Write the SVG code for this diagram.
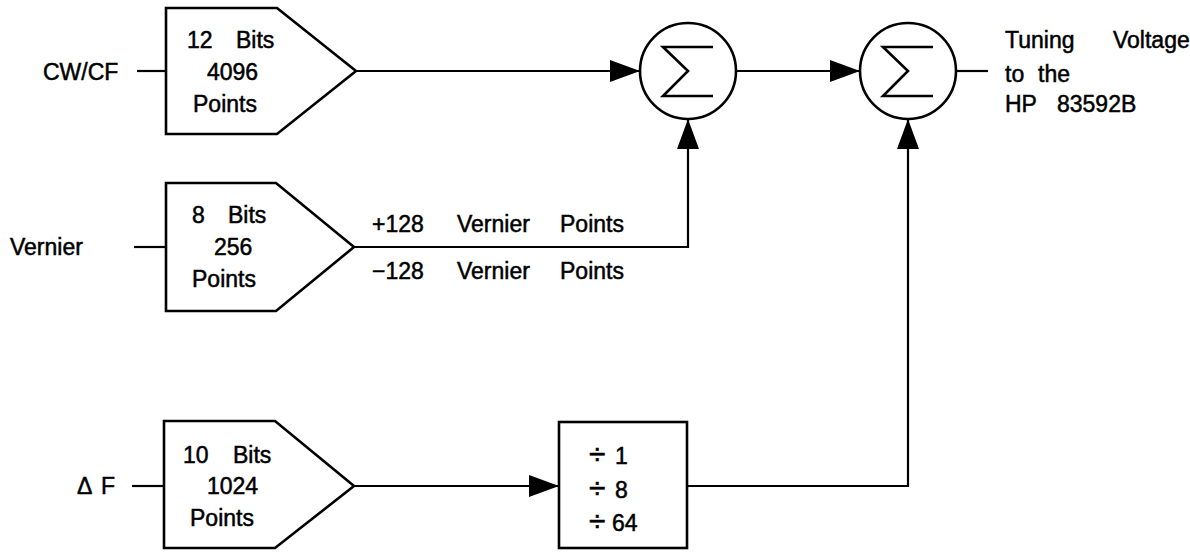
<svg xmlns="http://www.w3.org/2000/svg" width="1190" height="552" viewBox="0 0 1190 552">
<defs>
<style>
.shape{fill:#fff;stroke:#000;stroke-width:2.6;stroke-linejoin:miter}
.wire{fill:none;stroke:#000;stroke-width:2.2}
.sig{fill:none;stroke:#000;stroke-width:2.6;stroke-linejoin:miter}
text{font-family:"Liberation Sans",Arial,sans-serif;font-size:23px;fill:#000;stroke:#000;stroke-width:0.5}
.div{font-size:30px}
</style>
<marker id="arrow" viewBox="0 0 30 22" refX="30" refY="11" markerWidth="30" markerHeight="22" orient="auto" markerUnits="userSpaceOnUse">
<path d="M0,0 L30,11 L0,22 Z" fill="#000"/>
</marker>
</defs>
<rect width="1190" height="552" fill="#fff"/>

<g id="connectors">
<line class="wire" x1="137" y1="71" x2="166" y2="71"/>
<line class="wire" x1="134" y1="247" x2="166" y2="247"/>
<line class="wire" x1="132" y1="486" x2="164" y2="486"/>
<line class="wire" x1="356" y1="71" x2="640" y2="71" marker-end="url(#arrow)"/>
<line class="wire" x1="736" y1="71" x2="860" y2="71" marker-end="url(#arrow)"/>
<polyline class="wire" points="354,247 688,247 688,119" marker-end="url(#arrow)"/>
<line class="wire" x1="354" y1="486" x2="559" y2="486" marker-end="url(#arrow)"/>
<polyline class="wire" points="687,486 908,486 908,119" marker-end="url(#arrow)"/>
<line class="wire" x1="956" y1="71" x2="988" y2="71"/>
</g>

<g id="label-cwcf"><text x="43" y="80">CW/CF</text></g>
<g id="label-vernier"><text x="10" y="255">Vernier</text></g>
<g id="label-deltaf"><text x="77" y="494">Δ<tspan x="101">F</tspan></text></g>

<g id="dac-cwcf">
<path class="shape" d="M166,8 L277,8 L356,71 L277,134 L166,134 Z"/>
<text x="187" y="48">12<tspan x="236">Bits</tspan></text>
<text x="207" y="80">4096</text>
<text x="193" y="112">Points</text>
</g>

<g id="dac-vernier">
<path class="shape" d="M166,183 L276,183 L354,247 L276,311 L166,311 Z"/>
<text x="192" y="223">8<tspan x="228">Bits</tspan></text>
<text x="214" y="255">256</text>
<text x="192" y="287">Points</text>
</g>

<g id="vernier-labels">
<text x="372" y="232">+128<tspan x="457">Vernier</tspan><tspan x="560">Points</tspan></text>
<text x="372" y="279">−128<tspan x="457">Vernier</tspan><tspan x="560">Points</tspan></text>
</g>

<g id="dac-deltaf">
<path class="shape" d="M164,421 L275,421 L354,486 L275,548 L164,548 Z"/>
<text x="183" y="463">10<tspan x="233">Bits</tspan></text>
<text x="207" y="494">1024</text>
<text x="190" y="526">Points</text>
</g>

<g id="divider">
<rect class="shape" x="559" y="422" width="128" height="126"/>
<text x="589" y="464"><tspan class="div">÷</tspan><tspan x="615">1</tspan></text>
<text x="589" y="498"><tspan class="div">÷</tspan><tspan x="615">8</tspan></text>
<text x="589" y="531"><tspan class="div">÷</tspan><tspan x="612">64</tspan></text>
</g>

<g id="sum1">
<circle class="shape" cx="688" cy="71" r="48"/>
<path class="sig" d="M713,47 L663,47 L688,71 L663,96 L713,96"/>
</g>

<g id="sum2">
<circle class="shape" cx="908" cy="71" r="48"/>
<path class="sig" d="M933,47 L883,47 L908,71 L883,96 L933,96"/>
</g>

<g id="label-output">
<text x="1005" y="48">Tuning<tspan x="1113">Voltage</tspan></text>
<text x="1005" y="82">to<tspan x="1038">the</tspan></text>
<text x="1005" y="112">HP<tspan x="1057">83592B</tspan></text>
</g>
</svg>
